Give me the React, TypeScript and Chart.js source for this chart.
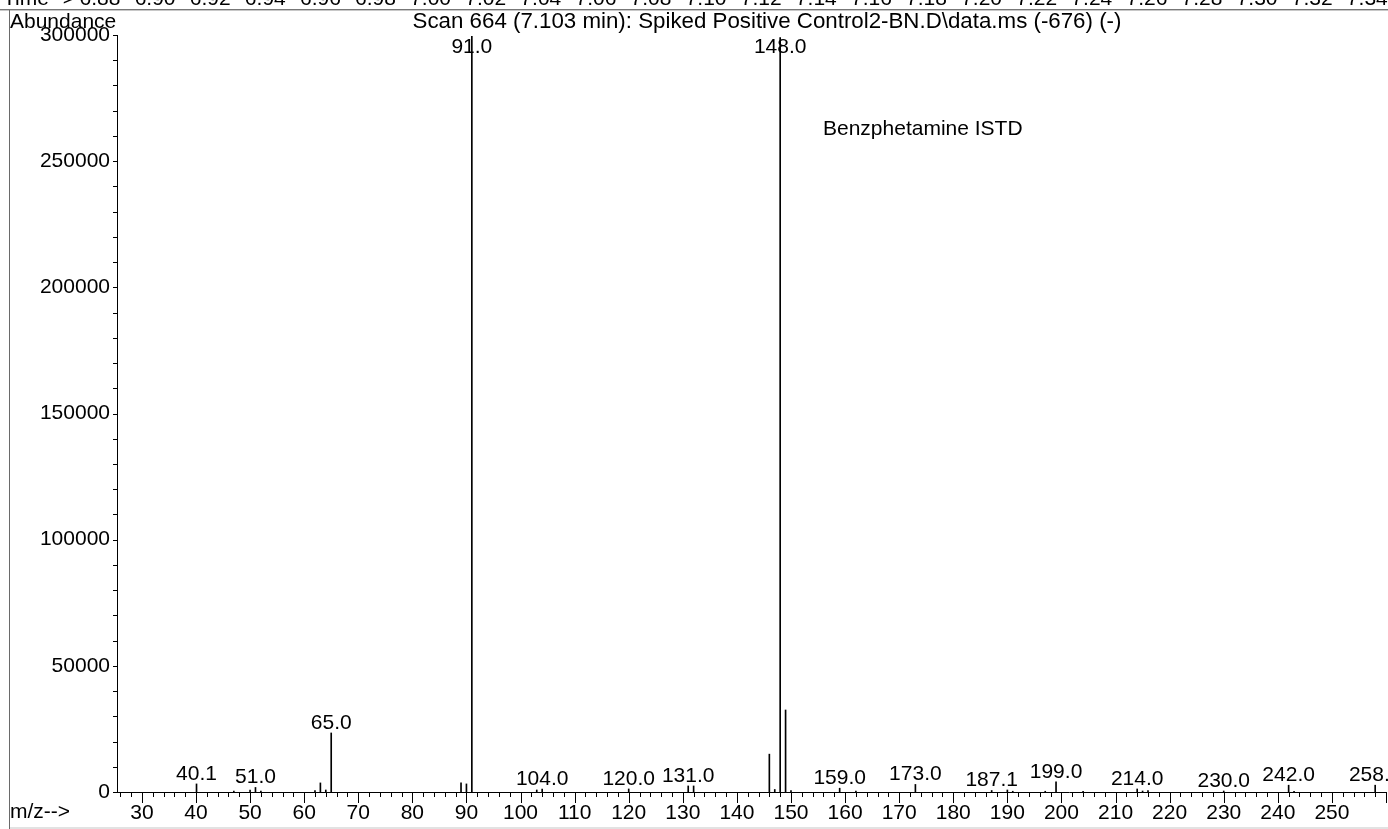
import React, { useEffect, useRef } from "react";
import { Chart, registerables } from "chart.js";

Chart.register(...registerables);

const FONT_FAMILY = "'Liberation Sans', Arial, Helvetica, sans-serif";
const FONT_SIZE = 21;

// m/z values of the sticks
const mzValues = [
  40.1, 47, 50, 51.0, 52, 62, 63, 64, 65.0, 89, 90, 91.0, 103, 104.0, 120.0,
  131.0, 132, 146, 147, 148.0, 149, 150, 159.0, 162, 173.0, 187.1, 190, 191,
  197, 199.0, 204, 214.0, 215, 216, 230.0, 242.0, 243, 258.0,
];
// abundance of each stick
const abundances = [
  3200, 400, 800, 1800, 400, 600, 3600, 800, 23400, 3600, 3200, 299500, 800,
  1200, 1200, 2400, 2400, 15000, 1000, 299000, 32500, 600, 1500, 400, 3000,
  600, 800, 300, 300, 4000, 300, 1200, 400, 600, 400, 2700, 300, 2700,
];
// labelled peaks
const peakLabels = [
  "40.1", "51.0", "65.0", "91.0", "104.0", "120.0", "131.0", "148.0", "159.0",
  "173.0", "187.1", "199.0", "214.0", "230.0", "242.0", "258.0",
];
const xTickValues = [
  30, 40, 50, 60, 70, 80, 90, 100, 110, 120, 130, 140, 150, 160, 170, 180, 190,
  200, 210, 220, 230, 240, 250,
];
const yTickValues = [0, 50000, 100000, 150000, 200000, 250000, 300000];
const timeLabels = [
  "6.88", "6.90", "6.92", "6.94", "6.96", "6.98", "7.00", "7.02", "7.04",
  "7.06", "7.08", "7.10", "7.12", "7.14", "7.16", "7.18", "7.20", "7.22",
  "7.24", "7.26", "7.28", "7.30", "7.32", "7.34",
];
const titleText =
  "Scan 664 (7.103 min): Spiked Positive Control2-BN.D\\data.ms (-676) (-)";
const compoundText = "Benzphetamine ISTD";
const yAxisTitle = "Abundance";
const xAxisTitle = "m/z-->";
const timeTitle = "Time-->";

const X_MIN = 25.4;
const X_MAX = 260;
const Y_MAX = 300000;

const decorPlugin = {
  id: "decor",
  afterDraw(chart: any) {
    const ctx = chart.ctx as CanvasRenderingContext2D;
    const xs = chart.scales.x;
    const ys = chart.scales.y;
    const area = chart.chartArea;
    const font = `${FONT_SIZE}px ${FONT_FAMILY}`;
    ctx.save();

    // frame lines
    ctx.fillStyle = "#777";
    ctx.fillRect(0, 9, chart.width, 1);
    ctx.fillStyle = "#c8c8c8";
    ctx.fillRect(0, 10, chart.width, 1);
    ctx.fillStyle = "#6a6a6a";
    ctx.fillRect(9, 10, 1, chart.height - 10);
    ctx.fillStyle = "#e2e2e2";
    ctx.fillRect(10, chart.height - 2, chart.width, 2);

    // x ticks (minor every 2, major every 10)
    ctx.strokeStyle = "#000";
    ctx.lineWidth = 1;
    const axisY = Math.round(ys.getPixelForValue(0));
    ctx.beginPath();
    for (let v = 26; v <= 260; v += 2) {
      const px = Math.round(xs.getPixelForValue(v)) + 0.5;
      const len = v % 10 === 0 ? 11 : 5;
      ctx.moveTo(px, axisY);
      ctx.lineTo(px, axisY + len);
    }
    // y ticks every 10000
    const axisX = Math.round(xs.getPixelForValue(X_MIN));
    for (let v = 0; v <= Y_MAX; v += 10000) {
      const py = Math.round(ys.getPixelForValue(v)) + 0.5;
      ctx.moveTo(axisX - 4, py);
      ctx.lineTo(axisX, py);
    }
    ctx.stroke();

    // peak labels
    ctx.font = font;
    ctx.fillStyle = "#000";
    ctx.textAlign = "center";
    ctx.textBaseline = "alphabetic";
    peakLabels.forEach((lbl) => {
      const m = parseFloat(lbl);
      const idx = mzValues.indexOf(m);
      if (idx < 0) return;
      const top = ys.getPixelForValue(abundances[idx]);
      const base = Math.max(top - 4, area.top + 18);
      ctx.fillText(lbl, xs.getPixelForValue(m), base);
    });

    // header texts
    ctx.textAlign = "left";
    ctx.fillText(yAxisTitle, 10, 28);
    ctx.fillText(compoundText, 823, 135);
    ctx.fillText(xAxisTitle, 10, 818);

    ctx.font = `22.3px ${FONT_FAMILY}`;
    ctx.textAlign = "center";
    ctx.fillText(titleText, 767, 28);

    // time row (cut off at the top)
    ctx.font = font;
    ctx.textAlign = "left";
    ctx.fillText(timeTitle, 3, 5);
    ctx.textAlign = "center";
    timeLabels.forEach((t, i) => {
      ctx.fillText(t, 100 + i * 55.1, 5);
    });

    ctx.restore();
  },
};

export default function App() {
  const canvasRef = useRef<HTMLCanvasElement | null>(null);

  useEffect(() => {
    document.body.style.margin = "0";
    document.body.style.overflow = "hidden";
    const canvas = canvasRef.current;
    if (!canvas) return;
    const chart = new Chart(canvas, {
      type: "bar",
      data: {
        datasets: [
          {
            data: mzValues.map((m, i) => ({ x: m, y: abundances[i] })),
            backgroundColor: "#000",
            borderWidth: 0,
            barThickness: 1,
          },
        ],
      },
      options: {
        responsive: false,
        animation: false,
        devicePixelRatio: 1,
        layout: { padding: { left: 0, top: 35, right: 2, bottom: 0 } },
        plugins: {
          legend: { display: false },
          tooltip: { enabled: false },
          title: { display: false },
        },
        scales: {
          x: {
            type: "linear",
            min: X_MIN,
            max: X_MAX,
            offset: false,
            grid: { display: false, drawTicks: false },
            border: { display: true, color: "#000", width: 1 },
            afterBuildTicks: (s: any) => {
              s.ticks = xTickValues.map((v) => ({ value: v }));
            },
            afterFit: (s: any) => {
              s.height = 37;
            },
            ticks: {
              color: "#000",
              font: { family: FONT_FAMILY, size: FONT_SIZE },
              padding: 9,
              maxRotation: 0,
              autoSkip: false,
              callback: (v: any) => String(v),
            },
          },
          y: {
            type: "linear",
            min: 0,
            max: Y_MAX,
            grid: { display: false, drawTicks: false },
            border: { display: true, color: "#000", width: 1 },
            afterBuildTicks: (s: any) => {
              s.ticks = yTickValues.map((v) => ({ value: v }));
            },
            afterFit: (s: any) => {
              s.width = 117;
            },
            ticks: {
              color: "#000",
              font: { family: FONT_FAMILY, size: FONT_SIZE },
              padding: 7,
              autoSkip: false,
              callback: (v: any) => String(v),
            },
          },
        },
      },
      plugins: [decorPlugin],
    } as any);
    return () => chart.destroy();
  }, []);

  return (
    <div
      style={{
        position: "fixed",
        left: 0,
        top: 0,
        width: 1388,
        height: 829,
        background: "#fff",
        overflow: "hidden",
      }}
    >
      <canvas ref={canvasRef} width={1388} height={829} />
    </div>
  );
}
